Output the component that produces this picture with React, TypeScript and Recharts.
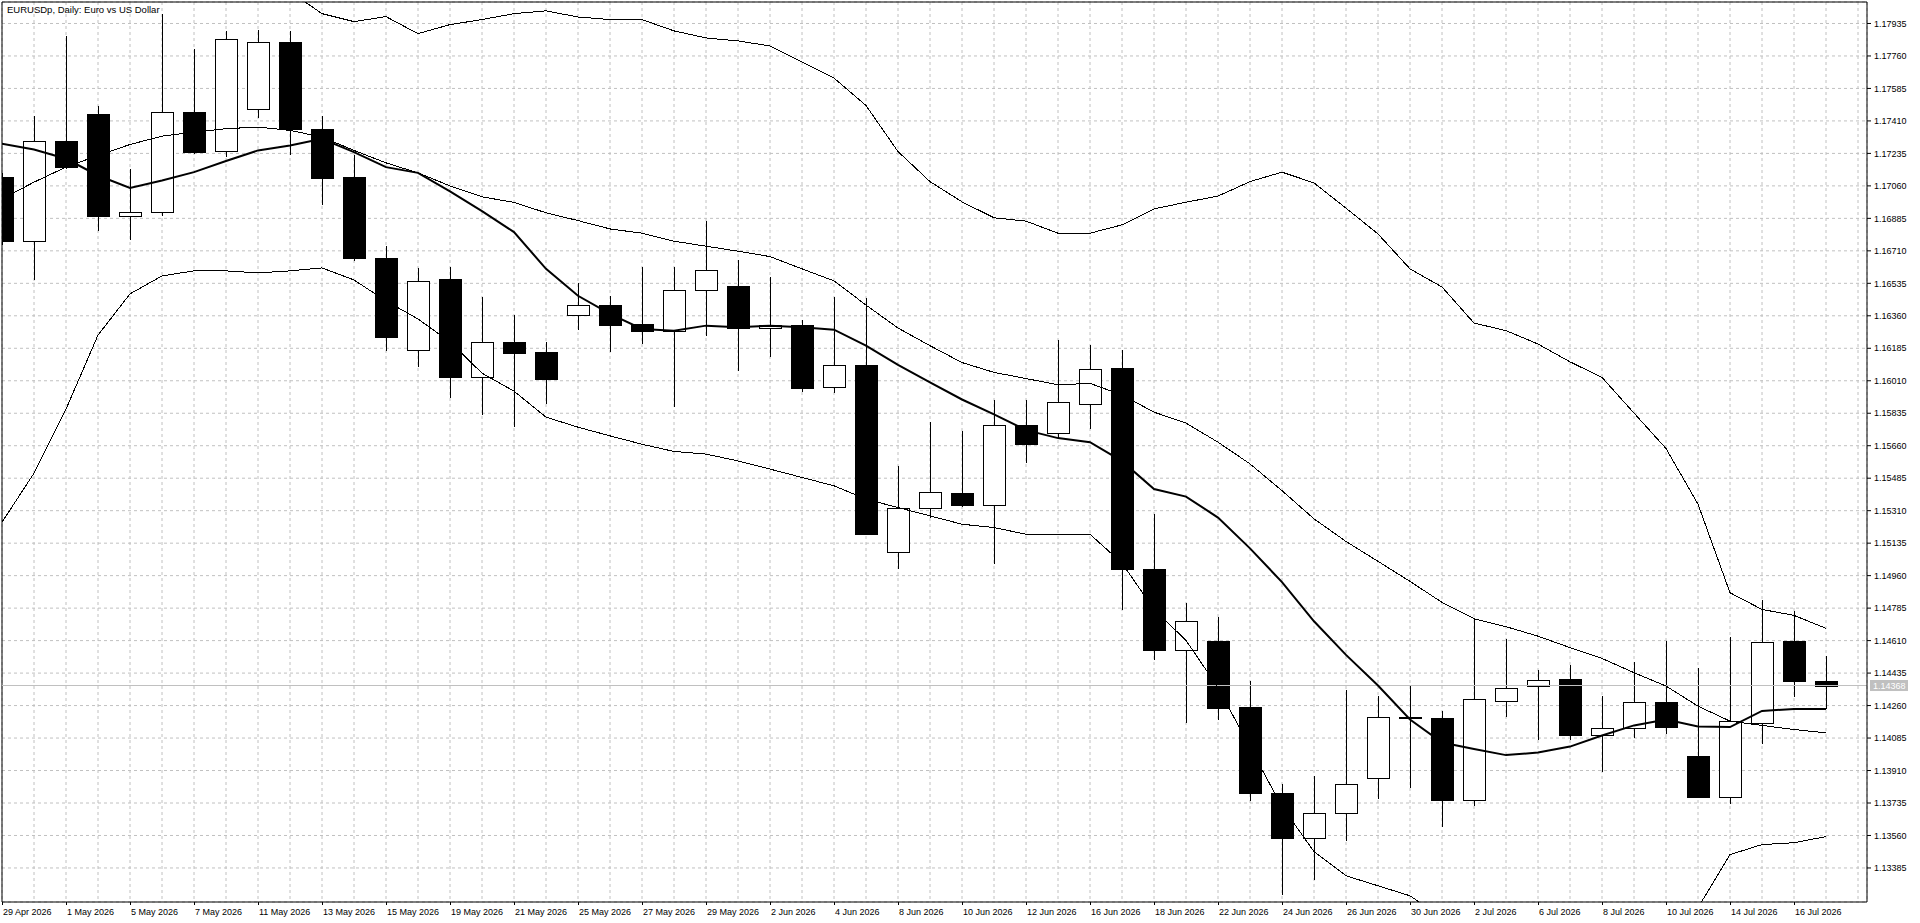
import React from 'react';
import { ComposedChart, Bar, Line, XAxis, YAxis, CartesianGrid, ReferenceLine } from 'recharts';

const dates = ['29 Apr 2026','30 Apr 2026','1 May 2026','4 May 2026','5 May 2026','6 May 2026','7 May 2026','8 May 2026','11 May 2026','12 May 2026','13 May 2026','14 May 2026','15 May 2026','18 May 2026','19 May 2026','20 May 2026','21 May 2026','22 May 2026','25 May 2026','26 May 2026','27 May 2026','28 May 2026','29 May 2026','1 Jun 2026','2 Jun 2026','3 Jun 2026','4 Jun 2026','5 Jun 2026','8 Jun 2026','9 Jun 2026','10 Jun 2026','11 Jun 2026','12 Jun 2026','15 Jun 2026','16 Jun 2026','17 Jun 2026','18 Jun 2026','19 Jun 2026','22 Jun 2026','23 Jun 2026','24 Jun 2026','25 Jun 2026','26 Jun 2026','29 Jun 2026','30 Jun 2026','1 Jul 2026','2 Jul 2026','3 Jul 2026','6 Jul 2026','7 Jul 2026','8 Jul 2026','9 Jul 2026','10 Jul 2026','13 Jul 2026','14 Jul 2026','15 Jul 2026','16 Jul 2026','17 Jul 2026'];

const opens = [1.17107,1.16762,1.17301,1.17449,1.16900,1.16918,1.17458,1.17247,1.17474,1.17835,1.17368,1.17107,1.16672,1.16176,1.16559,1.16028,1.16217,1.16163,1.16366,1.16417,1.16314,1.16280,1.16499,1.16519,1.16293,1.16310,1.15974,1.16095,1.15090,1.15327,1.15407,1.15343,1.15769,1.15731,1.15887,1.16078,1.14998,1.14561,1.14608,1.14250,1.13790,1.13546,1.13683,1.13871,1.14195,1.14194,1.13752,1.14286,1.14367,1.14401,1.14102,1.14140,1.14280,1.13989,1.13768,1.14167,1.14606,1.14394];
const highs = [1.17130,1.17434,1.17869,1.17493,1.17152,1.17988,1.17799,1.17896,1.17899,1.17893,1.17434,1.17228,1.16735,1.16616,1.16625,1.16463,1.16364,1.16217,1.16537,1.16468,1.16625,1.16625,1.16870,1.16661,1.16568,1.16339,1.16463,1.16458,1.15551,1.15789,1.15739,1.15906,1.15906,1.16230,1.16202,1.16177,1.15291,1.14812,1.14737,1.14394,1.13835,1.13880,1.14342,1.14313,1.14368,1.14230,1.14730,1.14620,1.14451,1.14476,1.14314,1.14492,1.14607,1.14462,1.14627,1.14827,1.14768,1.14525];
const lows = [1.16740,1.16555,1.17150,1.16819,1.16771,1.16900,1.17233,1.17215,1.17425,1.17224,1.16958,1.16657,1.16172,1.16085,1.15917,1.15825,1.15760,1.15884,1.16285,1.16166,1.16208,1.15866,1.16253,1.16064,1.16136,1.15951,1.15942,1.15178,1.14998,1.15268,1.15332,1.15024,1.15568,1.15701,1.15752,1.14777,1.14505,1.14165,1.14182,1.13747,1.13237,1.13319,1.13531,1.13758,1.13815,1.13604,1.13721,1.14197,1.14073,1.14072,1.13901,1.14086,1.14106,1.13764,1.13728,1.14054,1.14305,1.14239];
const closes = [1.16765,1.17301,1.17164,1.16900,1.16918,1.17458,1.17245,1.17852,1.17835,1.17369,1.17105,1.16673,1.16247,1.16549,1.16031,1.16217,1.16159,1.16019,1.16417,1.16312,1.16280,1.16498,1.16606,1.16293,1.16310,1.15972,1.16093,1.15187,1.15327,1.15413,1.15343,1.15774,1.15671,1.15893,1.16076,1.14996,1.14561,1.14717,1.14248,1.13790,1.13546,1.13683,1.13839,1.14201,1.14199,1.13750,1.14297,1.14356,1.14399,1.14100,1.14140,1.14280,1.14146,1.13766,1.14176,1.14604,1.14392,1.14368];

const sma10 = [1.17287,1.17256,1.17206,1.17116,1.17049,1.17089,1.17134,1.17194,1.17251,1.17278,1.17314,1.17242,1.17161,1.17130,1.17030,1.16924,1.16811,1.16613,1.16468,1.16370,1.16289,1.16280,1.16307,1.16298,1.16307,1.16298,1.16285,1.16199,1.16096,1.16001,1.15909,1.15829,1.15744,1.15701,1.15679,1.15577,1.15427,1.15386,1.15273,1.15107,1.14925,1.14714,1.14533,1.14368,1.14185,1.14061,1.14026,1.13993,1.14007,1.14039,1.14099,1.14153,1.14185,1.14147,1.14144,1.14231,1.14242,1.14242];
const bbMid = [1.16990,1.17080,1.17161,1.17224,1.17283,1.17328,1.17350,1.17368,1.17377,1.17359,1.17323,1.17251,1.17184,1.17130,1.17060,1.17001,1.16971,1.16915,1.16873,1.16828,1.16805,1.16762,1.16735,1.16708,1.16679,1.16613,1.16548,1.16418,1.16294,1.16199,1.16108,1.16055,1.16022,1.15988,1.15996,1.15933,1.15841,1.15782,1.15679,1.15562,1.15418,1.15266,1.15144,1.15037,1.14929,1.14816,1.14728,1.14685,1.14634,1.14572,1.14514,1.14437,1.14365,1.14257,1.14176,1.14153,1.14131,1.14113];
const bbUpper = [1.18716,1.18635,1.18474,1.18231,1.18123,1.18112,1.18112,1.18134,1.18150,1.18107,1.17988,1.17945,1.17972,1.17880,1.17929,1.17956,1.17988,1.18003,1.17970,1.17956,1.17956,1.17895,1.17857,1.17841,1.17814,1.17728,1.17641,1.17493,1.17245,1.17083,1.16974,1.16888,1.16870,1.16805,1.16805,1.16850,1.16936,1.16972,1.17005,1.17083,1.17134,1.17076,1.16940,1.16801,1.16613,1.16515,1.16321,1.16280,1.16208,1.16112,1.16028,1.15836,1.15645,1.15345,1.14868,1.14778,1.14746,1.14676];
const bbLower = [1.15248,1.15512,1.15857,1.16256,1.16478,1.16575,1.16602,1.16602,1.16591,1.16602,1.16618,1.16553,1.16440,1.16343,1.16219,1.16051,1.15954,1.15814,1.15760,1.15713,1.15668,1.15629,1.15615,1.15578,1.15534,1.15489,1.15444,1.15372,1.15327,1.15282,1.15237,1.15219,1.15183,1.15183,1.15183,1.15027,1.14778,1.14611,1.14358,1.14034,1.13716,1.13473,1.13343,1.13289,1.13235,1.13117,1.13133,1.13090,1.13063,1.13031,1.12998,1.13036,1.13084,1.13171,1.13457,1.13511,1.13521,1.13554];

const yTicks = [1.13385,1.13560,1.13735,1.13910,1.14085,1.14260,1.14435,1.14610,1.14785,1.14960,1.15135,1.15310,1.15485,1.15660,1.15835,1.16010,1.16185,1.16360,1.16535,1.16710,1.16885,1.17060,1.17235,1.17410,1.17585,1.17760,1.17935];
const yDomain = [1.132016, 1.180507];
const xDomain = [0, 58.28125];
const lastPrice = 1.14368;
const title = 'EURUSDp, Daily:  Euro vs US Dollar';

const FONT = '"Liberation Sans", Arial, sans-serif';

const gridIdx = Array.from({ length: dates.length + 1 }, (_, k) => k);

const data = dates.map((d, i) => ({
  i,
  date: d,
  open: opens[i],
  high: highs[i],
  low: lows[i],
  close: closes[i],
  range: [lows[i], highs[i]],
  ma: sma10[i],
  mid: bbMid[i],
  upper: bbUpper[i],
  lower: bbLower[i],
}));

const Candle = (props: any) => {
  const { x, y, width, height, payload } = props;
  if (!payload) return null;
  const { open, close, high, low } = payload;
  const cx = Math.round(x + width / 2);
  const top = Math.min(y, y + height);
  const h = Math.abs(height);
  const ppu = h / (high - low);
  const yOf = (p: number) => top + (high - p) * ppu;
  const yO = yOf(open);
  const yC = yOf(close);
  const up = close >= open;
  const bTop = Math.round(Math.min(yO, yC));
  const bBot = Math.round(Math.max(yO, yC));
  const bh = Math.max(1, bBot - bTop);
  return (
    <g>
      <line x1={cx + 0.5} x2={cx + 0.5} y1={Math.round(top)} y2={Math.round(top + h)} stroke="#000" strokeWidth={1} shapeRendering="crispEdges" />
      {up ? (
        <rect x={cx - 10.5} y={bTop + 0.5} width={22} height={bh} fill="#fff" stroke="#000" strokeWidth={1} shapeRendering="crispEdges" />
      ) : (
        <rect x={cx - 11} y={bTop} width={23} height={bh + 1} fill="#000" shapeRendering="crispEdges" />
      )}
    </g>
  );
};

const XTick = (props: any) => {
  const { x, y, payload } = props;
  const idx = payload.value;
  if (idx % 2 !== 0 || idx >= dates.length) return null;
  const px = Math.round(x);
  return (
    <g>
      <line x1={px + 0.5} x2={px + 0.5} y1={y} y2={y + 3} stroke="#000" shapeRendering="crispEdges" />
      <text x={px + 1} y={y + 13} fontSize={9} fontFamily={FONT} fill="#000" textAnchor="start">{dates[idx]}</text>
    </g>
  );
};

const PriceTag = (props: any) => {
  const vb = props.viewBox || {};
  const bx = vb.x + vb.width + 3;
  const by = vb.y;
  return (
    <g>
      <rect x={bx} y={by - 5.5} width={38} height={11} fill="#c0c0c0" />
      <text x={bx + 3} y={by + 3.5} fontSize={9} fontFamily={FONT} fill="#fff" textAnchor="start">{lastPrice.toFixed(5)}</text>
    </g>
  );
};

export default function App() {
  return (
    <div style={{ position: 'absolute', left: 0, top: 0, width: 1920, height: 923, background: '#fff', fontFamily: FONT }}>
      <ComposedChart width={1920} height={923} data={data} margin={{ top: 2, right: 0, bottom: 0, left: 2 }}>
        <CartesianGrid stroke="#c0c0c0" strokeDasharray="3 3" horizontal={true} vertical={true} />
        <XAxis
          dataKey="i"
          type="number"
          domain={xDomain}
          ticks={gridIdx}
          interval={0}
          allowDataOverflow
          height={21}
          tickSize={0}
          tickMargin={0}
          tickLine={false}
          axisLine={{ stroke: '#000' }}
          tick={<XTick />}
        />
        <YAxis
          orientation="right"
          type="number"
          domain={yDomain}
          ticks={yTicks}
          interval={0}
          allowDataOverflow
          width={53}
          tickSize={4}
          tickMargin={3}
          tickLine={{ stroke: '#000' }}
          axisLine={{ stroke: '#000' }}
          tick={{ fill: '#000', fontSize: 9, fontFamily: FONT }}
          tickFormatter={(v: number) => v.toFixed(5)}
        />
        <ReferenceLine x={xDomain[0]} stroke="#000" />
        <ReferenceLine y={yDomain[1]} stroke="#000" />
        <ReferenceLine y={lastPrice} stroke="#c0c0c0" label={<PriceTag />} />
        <Line type="linear" dataKey="upper" stroke="#000" strokeWidth={1} shapeRendering="crispEdges" dot={false} activeDot={false} isAnimationActive={false} />
        <Line type="linear" dataKey="mid" stroke="#000" strokeWidth={1} shapeRendering="crispEdges" dot={false} activeDot={false} isAnimationActive={false} />
        <Line type="linear" dataKey="lower" stroke="#000" strokeWidth={1} shapeRendering="crispEdges" dot={false} activeDot={false} isAnimationActive={false} />
        <Bar dataKey="range" barSize={22} shape={<Candle />} isAnimationActive={false} />
        <Line type="linear" dataKey="ma" stroke="#000" strokeWidth={2} dot={false} activeDot={false} isAnimationActive={false} />
      </ComposedChart>
      <div style={{ position: 'absolute', left: 7, top: 4, fontSize: 9.5, lineHeight: '11px', color: '#000', pointerEvents: 'none' }}>{title}</div>
    </div>
  );
}
